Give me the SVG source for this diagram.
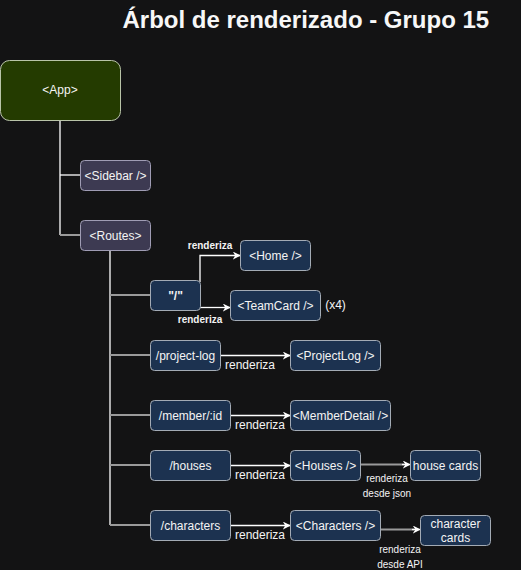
<svg xmlns="http://www.w3.org/2000/svg" width="521" height="570" viewBox="0 0 521 570">
<defs>
<marker id="arr" viewBox="0 0 10 10" refX="9" refY="5" markerWidth="8" markerHeight="8" markerUnits="userSpaceOnUse" orient="auto">
<path d="M0,0 L10,5 L0,10 L3,5 Z" fill="#ffffff"/>
</marker>
<style>
text{font-family:"Liberation Sans",Arial,sans-serif;fill:#f4f4f4}
.n{font-size:12px;text-anchor:middle;dominant-baseline:central}
.route rect{fill:#1c3250;stroke:#a3abb5;stroke-width:1}
.comp rect{fill:#1c3250;stroke:#a3abb5;stroke-width:1}
.purple rect{fill:#3d3a52;stroke:#9f9cb4;stroke-width:1}
.w{stroke:#ffffff;stroke-width:1.3;fill:none}
.g{stroke:#9a9a9a;stroke-width:2;fill:none}
.lb{font-size:10px;font-weight:bold;text-anchor:middle;dominant-baseline:central}
.lm{font-size:12px;text-anchor:middle;dominant-baseline:central}
.ls{font-size:10px;text-anchor:middle;dominant-baseline:central}
</style>
</defs>
<rect width="521" height="570" fill="#131314"/>
<text x="122.5" y="28" style="font-size:24px;font-weight:bold;fill:#f7f7f7">Árbol de renderizado - Grupo 15</text>

<g id="connectors">
<path class="w" d="M60,120 V235"/>
<path class="w" d="M60,175 H80"/>
<path class="g" d="M60,235 H80"/>
<path class="w" d="M110,250 V525"/>
<path class="g" d="M110,295 H150"/>
<path class="g" d="M110,355 H150"/>
<path class="g" d="M110,415 H150"/>
<path class="g" d="M110,465 H150"/>
<path class="g" d="M110,525 H150"/>
<path class="w" d="M200,282 V255.5 H240" marker-end="url(#arr)"/>
<path class="w" d="M200,307.5 H230" marker-end="url(#arr)"/>
<path class="w" d="M220,355.5 H290" marker-end="url(#arr)"/>
<path class="w" d="M230,415.5 H290" marker-end="url(#arr)"/>
<path class="w" d="M230,465.5 H290" marker-end="url(#arr)"/>
<path class="w" d="M230,525.5 H290" marker-end="url(#arr)"/>
<path class="g" d="M360,464.5 H404"/>
<path class="w" d="M402,464.5 H410" marker-end="url(#arr)"/>
<path class="g" d="M380,529.5 H414"/>
<path class="w" d="M412,529.5 H420" marker-end="url(#arr)"/>
<text class="lb" x="210" y="245">renderiza</text>
<text class="lb" x="200" y="319">renderiza</text>
<text class="lm" x="250" y="365">renderiza</text>
<text class="lm" x="260" y="425">renderiza</text>
<text class="lm" x="260" y="475">renderiza</text>
<text class="lm" x="260" y="535">renderiza</text>
<text class="ls" x="387" y="478">renderiza</text>
<text class="ls" x="387" y="493">desde json</text>
<text class="ls" x="400" y="549">renderiza</text>
<text class="ls" x="400" y="564">desde API</text>
</g>

<g id="app"><rect x="0.5" y="60.5" width="120" height="60" rx="9" fill="#243b00" stroke="#b9c4a8" stroke-width="1"/><text class="n" x="60" y="90">&lt;App&gt;</text></g>
<g id="sidebar" class="purple"><rect x="80.5" y="160.5" width="70" height="30" rx="4"/><text class="n" x="115.5" y="175.5">&lt;Sidebar /&gt;</text></g>
<g id="routes" class="purple"><rect x="80.5" y="220.5" width="70" height="30" rx="4"/><text class="n" x="115.5" y="235.5">&lt;Routes&gt;</text></g>

<g id="route-root" class="route"><rect x="150.5" y="280.5" width="50" height="30" rx="4"/><text class="n" x="175.5" y="295.5" style="font-weight:bold">"/"</text></g>
<g id="home" class="comp"><rect x="240.5" y="240.5" width="70" height="30" rx="4"/><text class="n" x="275.5" y="255.5">&lt;Home /&gt;</text></g>
<g id="teamcard" class="comp"><rect x="230.5" y="290.5" width="90" height="30" rx="4"/><text class="n" x="275.5" y="305.5">&lt;TeamCard /&gt;</text></g>
<text class="n" x="335.5" y="305">(x4)</text>

<g id="route-project-log" class="route"><rect x="150.5" y="340.5" width="70" height="30" rx="4"/><text class="n" x="185.5" y="355.5">/project-log</text></g>
<g id="projectlog" class="comp"><rect x="290.5" y="340.5" width="90" height="30" rx="4"/><text class="n" x="335.5" y="355.5">&lt;ProjectLog /&gt;</text></g>

<g id="route-member" class="route"><rect x="150.5" y="400.5" width="80" height="30" rx="4"/><text class="n" x="190.5" y="415.5">/member/:id</text></g>
<g id="memberdetail" class="comp"><rect x="290.5" y="400.5" width="100" height="30" rx="4"/><text class="n" x="340.5" y="415.5">&lt;MemberDetail /&gt;</text></g>

<g id="route-houses" class="route"><rect x="150.5" y="450.5" width="80" height="30" rx="4"/><text class="n" x="190.5" y="465.5">/houses</text></g>
<g id="houses" class="comp"><rect x="290.5" y="450.5" width="70" height="30" rx="4"/><text class="n" x="325.5" y="465.5">&lt;Houses /&gt;</text></g>
<g id="housecards" class="comp"><rect x="410.5" y="450.5" width="70" height="30" rx="4"/><text class="n" x="445.5" y="465.5">house cards</text></g>

<g id="route-characters" class="route"><rect x="150.5" y="510.5" width="80" height="30" rx="4"/><text class="n" x="190.5" y="525.5">/characters</text></g>
<g id="characters" class="comp"><rect x="290.5" y="510.5" width="90" height="30" rx="4"/><text class="n" x="335.5" y="525.5">&lt;Characters /&gt;</text></g>
<g id="charactercards" class="comp"><rect x="420.5" y="515.5" width="70" height="30" rx="4"/><text class="n" x="455.5" y="523.5">character</text><text class="n" x="455.5" y="537.5">cards</text></g>
</svg>
